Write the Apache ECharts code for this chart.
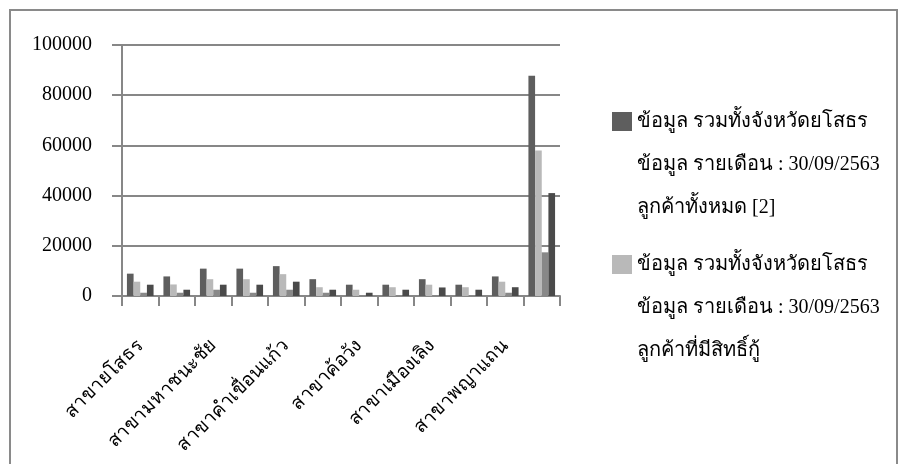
<!DOCTYPE html>
<html>
<head>
<meta charset="utf-8">
<script src="https://cdn.jsdelivr.net/npm/echarts@6/dist/echarts.min.js"></script>
<style>
html,body{margin:0;padding:0;background:#fff;}
#chart{width:901px;height:464px;}
</style>
</head>
<body>
<div id="chart"></div>
<script>
var categories = [
  'สาขายโสธร', 'สาขาทรายมูล', 'สาขามหาชนะชัย', 'สาขากุดชุม',
  'สาขาคำเขื่อนแก้ว', 'สาขาป่าติ้ว', 'สาขาค้อวัง', 'สาขาเลิงนกทา',
  'สาขาเมืองเลิง', 'สาขาไทยเจริญ', 'สาขาพญาแถน', 'รวมทั้งจังหวัด'
];
var seriesNames = [
  'ข้อมูล รวมทั้งจังหวัดยโสธร\nข้อมูล รายเดือน : 30/09/2563\nลูกค้าทั้งหมด [2]',
  'ข้อมูล รวมทั้งจังหวัดยโสธร\nข้อมูล รายเดือน : 30/09/2563\nลูกค้าที่มีสิทธิ์กู้',
  'ข้อมูล รวมทั้งจังหวัดยโสธร\nข้อมูล รายเดือน : 30/09/2563\nลูกค้า [3]',
  'ข้อมูล รวมทั้งจังหวัดยโสธร\nข้อมูล รายเดือน : 30/09/2563\nลูกค้า [4]'
];
var allCustomers   = [8900, 7800, 10900, 10900, 11900, 6700, 4500, 4500, 6700, 4500, 7800, 87700];
var eligible       = [5700, 4600, 6700, 6700, 8700, 3500, 2500, 3500, 4500, 3500, 5700, 58000];
var seriesThree    = [1300, 1300, 2500, 1300, 2500, 1300, 300, 300, 300, 300, 1300, 17400];
var seriesFour     = [4500, 2500, 4500, 4500, 5700, 2500, 1300, 2500, 3400, 2500, 3500, 41000];
var yTicks = [0, 20000, 40000, 60000, 80000, 100000];

var colors = ['#5e5e5e', '#b9b9b9', '#888888', '#4a4a4a'];
var serif = "'Liberation Serif', 'Times New Roman', serif";
var gridColor = '#878787';

var chart = echarts.init(document.getElementById('chart'), null, {renderer: 'canvas'});
var dataSets = [allCustomers, eligible, seriesThree, seriesFour];
var option = {
  animation: false,
  backgroundColor: '#ffffff',
  color: colors,
  graphic: [{
    type: 'rect',
    shape: {x: 10, y: 10, width: 887, height: 480},
    style: {fill: 'none', stroke: '#8a8a8a', lineWidth: 2},
    silent: true
  }],
  grid: {left: 122, right: 341, top: 45, bottom: 168, containLabel: false},
  legend: {
    show: true,
    orient: 'vertical',
    left: 612,
    top: 14,
    padding: 0,
    data: [seriesNames[0], seriesNames[1]],
    formatter: function (name) { return '\n\n' + name; },
    icon: 'rect',
    itemWidth: 20,
    itemHeight: 19,
    itemGap: -72,
    textStyle: {
      fontFamily: serif,
      fontSize: 20,
      color: '#000',
      lineHeight: 43
    }
  },
  xAxis: {
    type: 'category',
    data: categories,
    axisLine: {show: true, lineStyle: {color: gridColor, width: 2}},
    axisTick: {show: true, interval: 0, length: 10, lineStyle: {color: gridColor, width: 2}},
    axisLabel: {
      interval: 1,
      rotate: 45,
      margin: 47,
      fontFamily: serif,
      fontSize: 19,
      color: '#000'
    }
  },
  yAxis: {
    type: 'value',
    min: 0,
    max: 100000,
    interval: 20000,
    axisLine: {show: true, lineStyle: {color: gridColor, width: 2}},
    axisTick: {show: true, length: 10, lineStyle: {color: gridColor, width: 2}},
    splitLine: {show: true, lineStyle: {color: gridColor, width: 2}},
    axisLabel: {
      margin: 30,
      fontFamily: serif,
      fontSize: 20,
      color: '#000',
      formatter: function (v) { return yTicks.indexOf(v) >= 0 ? String(v) : ''; }
    }
  },
  series: dataSets.map(function (d, i) {
    return {
      type: 'bar',
      name: seriesNames[i],
      data: d,
      barGap: '0%',
      barCategoryGap: '27%',
      itemStyle: {color: colors[i]}
    };
  })
};
chart.setOption(option);
</script>
</body>
</html>
